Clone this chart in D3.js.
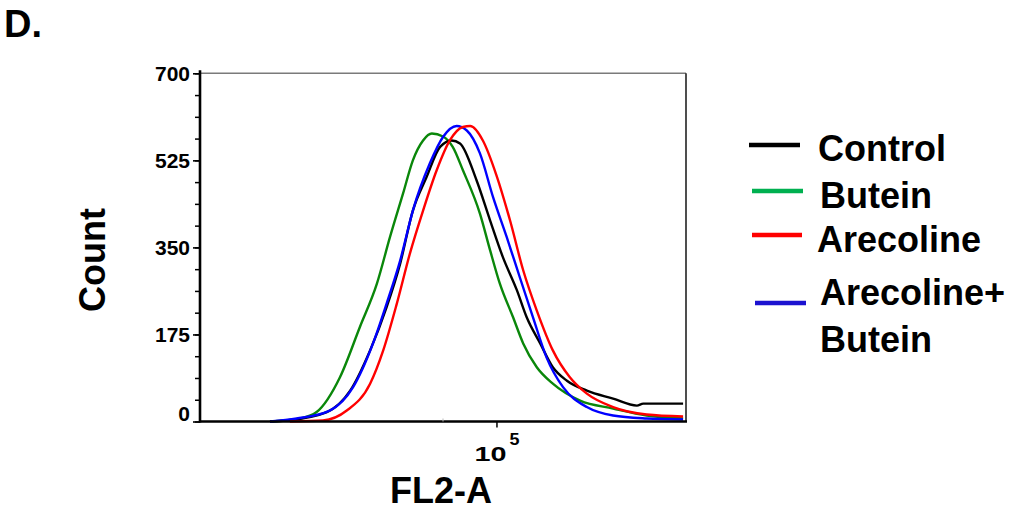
<!DOCTYPE html>
<html>
<head>
<meta charset="utf-8">
<script src="https://cdn.jsdelivr.net/npm/d3@7"></script>
<style>
  body { margin: 0; background: #fff; }
  svg text { font-family: "Liberation Sans", Arial, sans-serif; font-weight: bold; fill: #000; }
</style>
</head>
<body>
<svg id="chart"></svg>
<script>
// FL2-A on a log axis: x values are log10(FL2-A), y is event count
const seriesNames = ['Control', 'Butein', 'Arecoline', 'Arecoline+Butein'];
const yTickValues = [0, 175, 350, 525, 700];
const xTickValues = [5];      // 10^5
const xMinorTicks = [4.89];

const controlPts = [[4.534,0],[4.568,2],[4.651,19],[4.699,62],[4.740,143],[4.774,230],[4.802,318],[4.828,424],
  [4.856,491],[4.884,552],[4.908,565],[4.925,559],[4.959,485],[4.987,404],[5.013,331],[5.042,264],[5.062,210],
  [5.090,157],[5.116,109],[5.145,82],[5.186,62],[5.240,46],[5.289,32],[5.302,36],[5.384,36]];
const buteinPts = [[4.534,0],[4.596,6],[4.630,19],[4.678,89],[4.719,190],[4.754,277],[4.781,371],[4.808,459],
  [4.828,525],[4.849,565],[4.867,579],[4.890,573],[4.910,552],[4.931,505],[4.966,418],[4.987,344],[5.007,277],
  [5.034,210],[5.055,157],[5.083,109],[5.116,76],[5.172,42],[5.240,26],[5.309,12],[5.384,6]];
const arecolinePts = [[4.575,0],[4.643,2],[4.692,22],[4.740,76],[4.767,143],[4.795,237],[4.822,338],[4.849,424],
  [4.877,505],[4.904,565],[4.931,592],[4.946,594],[4.972,565],[5.000,495],[5.028,404],[5.055,304],[5.083,223],
  [5.116,143],[5.151,89],[5.186,56],[5.240,29],[5.309,14],[5.384,10]];
const comboPts = [[4.534,0],[4.589,6],[4.657,22],[4.705,69],[4.746,157],[4.774,237],[4.802,324],[4.828,424],
  [4.863,519],[4.890,572],[4.918,594],[4.939,585],[4.966,539],[4.993,451],[5.021,371],[5.048,290],[5.075,210],
  [5.103,129],[5.137,69],[5.186,29],[5.240,12],[5.309,6],[5.384,4]];

const lineColors   = ['#000000', '#0a870a', '#ff0000', '#0000ff'];
const legendColors = ['#000000', '#00b050', '#ff0000', '#1c12d0'];

const width = 1013, height = 512;
const plot = { left: 200, right: 686, top: 73.3, bottom: 421.5 };

const svg = d3.select('svg#chart').attr('width', width).attr('height', height);

const x = d3.scaleLinear().domain([4.39, 5.39]).range([plot.left, plot.right]);
const y = d3.scaleLinear().domain([0, 700]).range([plot.bottom, plot.top]);

// frame: grey top, dark right
svg.append('line').attr('x1', plot.left).attr('x2', plot.right).attr('y1', plot.top).attr('y2', plot.top)
  .attr('stroke', '#7a7a7a').attr('stroke-width', 1.6);
svg.append('line').attr('x1', plot.right).attr('x2', plot.right).attr('y1', plot.top).attr('y2', plot.bottom)
  .attr('stroke', '#222').attr('stroke-width', 1.6);

// curves
const line = d3.line().x(d => x(d[0])).y(d => y(d[1])).curve(d3.curveMonotoneX);
const allSeries = [controlPts, buteinPts, arecolinePts, comboPts];
const drawOrder = [1, 0, 3, 2];
drawOrder.forEach(i => {
  svg.append('path').datum(allSeries[i])
    .attr('d', line)
    .attr('fill', 'none')
    .attr('stroke', lineColors[i])
    .attr('stroke-width', 2.4)
    .attr('stroke-linejoin', 'round');
});

// y axis
const yMinor = svg.append('g').attr('transform', `translate(${plot.left},0)`)
  .call(d3.axisLeft(y).tickValues(d3.range(0, 701, 43.75)).tickSize(5).tickFormat(''));
yMinor.select('.domain').remove();
yMinor.selectAll('line').attr('stroke-width', 1.5);

const yAxis = svg.append('g').attr('transform', `translate(${plot.left},0)`)
  .call(d3.axisLeft(y).tickValues(yTickValues).tickSize(7).tickPadding(3).tickSizeOuter(0));
yAxis.select('.domain').attr('stroke-width', 2.6).attr('d', `M0,${plot.bottom + 1}V${plot.top - 3}`);
yAxis.selectAll('line').attr('stroke-width', 1.6);
yAxis.selectAll('text').style('font-size', '21px').attr('dy', (d) => d === 0 ? '-0.05em' : '0.35em');

// x axis
const xAxis = svg.append('g').attr('transform', `translate(0,${plot.bottom})`)
  .call(d3.axisBottom(x).tickValues(xTickValues).tickSize(6).tickFormat('').tickSizeOuter(0));
xAxis.select('.domain').attr('stroke-width', 2.6).attr('d', `M${plot.left},0H${plot.right + 1}`);
xAxis.selectAll('line').attr('stroke-width', 1.5);
svg.append('g').selectAll('line').data(xMinorTicks).join('line')
  .attr('x1', d => x(d)).attr('x2', d => x(d)).attr('y1', plot.bottom - 3).attr('y2', plot.bottom)
  .attr('stroke', '#bbb').attr('stroke-width', 1);

// 10^5 label
xTickValues.forEach(v => {
  const t = svg.append('g').attr('transform', `translate(${x(v)},0)`);
  t.append('text').attr('x', -22).attr('y', 461).style('font-size', '21px')
    .attr('textLength', 32).attr('lengthAdjust', 'spacingAndGlyphs').text('10');
  t.append('text').attr('x', 13).attr('y', 445).style('font-size', '17px')
    .attr('textLength', 10).attr('lengthAdjust', 'spacingAndGlyphs').text(v);
});

// axis titles
svg.append('text').attr('transform', 'translate(105,260) rotate(-90)')
  .attr('text-anchor', 'middle').style('font-size', '36px').text('Count');
svg.append('text').attr('x', 441).attr('y', 503)
  .attr('text-anchor', 'middle').style('font-size', '36px').text('FL2-A');

// panel letter
svg.append('text').attr('x', 4).attr('y', 37).style('font-size', '38px').text('D.');

// legend
const legendRows = [
  { line: [749, 800, 145], text: [[818, 161, 'Control']] },
  { line: [752, 803, 191], text: [[820, 208, 'Butein']] },
  { line: [752, 802, 235], text: [[817, 252, 'Arecoline']] },
  { line: [755, 806, 303], text: [[820, 305, 'Arecoline+'], [820, 352, 'Butein']] }
];
legendRows.forEach((r, i) => {
  svg.append('line').attr('x1', r.line[0]).attr('x2', r.line[1]).attr('y1', r.line[2]).attr('y2', r.line[2])
    .attr('stroke', legendColors[i]).attr('stroke-width', 4.5);
  r.text.forEach(t => {
    svg.append('text').attr('x', t[0]).attr('y', t[1]).style('font-size', '36px').text(t[2]);
  });
});
</script>
</body>
</html>
